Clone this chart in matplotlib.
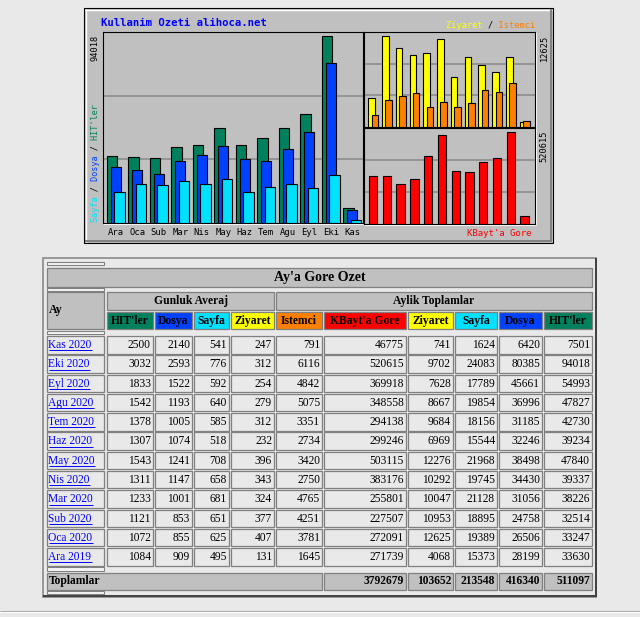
import matplotlib
matplotlib.use('Agg')
import matplotlib.pyplot as plt
from matplotlib.patches import Rectangle
import numpy as np

# ---------------- data (table order: newest first) ----------------
months = ["Kas 2020", "Eki 2020", "Eyl 2020", "Agu 2020", "Tem 2020", "Haz 2020",
          "May 2020", "Nis 2020", "Mar 2020", "Sub 2020", "Oca 2020", "Ara 2019"]
daily_hits = [2500, 3032, 1833, 1542, 1378, 1307, 1543, 1311, 1233, 1121, 1072, 1084]
daily_files = [2140, 2593, 1522, 1193, 1005, 1074, 1241, 1147, 1001, 853, 855, 909]
daily_pages = [541, 776, 592, 640, 585, 518, 708, 658, 681, 651, 625, 495]
daily_visits = [247, 312, 254, 279, 312, 232, 396, 343, 324, 377, 407, 131]
sites = [791, 6116, 4842, 5075, 3351, 2734, 3420, 2750, 4765, 4251, 3781, 1645]
kbytes = [46775, 520615, 369918, 348558, 294138, 299246, 503115, 383176, 255801,
          227507, 272091, 271739]
visits = [741, 9702, 7628, 8667, 9684, 6969, 12276, 10292, 10047, 10953, 12625, 4068]
pages = [1624, 24083, 17789, 19854, 18156, 15544, 21968, 19745, 21128, 18895, 19389, 15373]
files = [6420, 80385, 45661, 36996, 31185, 32246, 38498, 34430, 31056, 24758, 26506, 28199]
hits = [7501, 94018, 54993, 47827, 42730, 39234, 47840, 39337, 38226, 32514, 33247, 33630]

daily_headers = ["HIT'ler", "Dosya", "Sayfa", "Ziyaret"]
monthly_headers = ["Istemci", "KBayt'a Gore", "Ziyaret", "Sayfa", "Dosya", "HIT'ler"]

C_HIT, C_FILE, C_PAGE = '#00805c', '#0040ff', '#00e0ff'
C_VISIT, C_SITE, C_KB = '#ffff00', '#ff8000', '#ff0000'
GREY = '#c0c0c0'
PAGE_BG = '#e9e9e9'
MONO = 'DejaVu Sans Mono'
SERIF = 'Liberation Serif'

W, H = 640, 617
fig = plt.figure(figsize=(W / 100, H / 100), dpi=100)
fig.patch.set_facecolor(PAGE_BG)
bg = fig.add_axes([0, 0, 1, 1])
bg.set_xlim(0, W)
bg.set_ylim(H, 0)
bg.axis('off')
bg.set_zorder(0)


def rect(x0, y0, x1, y1, fc, ec='none', lw=0.0, z=1):
    bg.add_patch(Rectangle((x0, y0), x1 - x0, y1 - y0, facecolor=fc,
                           edgecolor=ec, linewidth=lw, zorder=z))


def line(xs, ys, c, lw, z=2):
    bg.plot(xs, ys, color=c, lw=lw, zorder=z, solid_capstyle='butt')


def px_axes(x0, y0, x1, y1, z=3):
    ax = fig.add_axes([x0 / W, 1 - y1 / H, (x1 - x0) / W, (y1 - y0) / H])
    ax.set_zorder(z)
    ax.set_facecolor(GREY)
    for s in ax.spines.values():
        s.set_color('black')
        s.set_linewidth(0.8)
    ax.set_yticks([])
    for fr in (1 / 3, 2 / 3):
        ax.plot([0, 1], [fr, fr], transform=ax.transAxes, color='#888888',
                lw=1.1, zorder=1)
    return ax


# ---------------- chart frame ----------------
rect(84, 8, 553, 243, GREY, 'black', 0.8)
line([85, 552], [9.6, 9.6], 'white', 1.0)
line([85.6, 85.6], [9, 242], 'white', 1.0)
line([85, 552], [241.3, 241.3], '#808080', 1.4)
line([551.3, 551.3], [9, 242], '#808080', 1.4)
# bevel around plot areas
line([103, 364], [224.2, 224.2], 'white', 0.8)
line([363.6, 363.6], [32, 224], 'white', 0.8)
line([364, 536], [225, 225], 'white', 0.8)
line([536.2, 536.2], [32, 225], 'white', 0.8)

x = np.arange(len(months))
short = [m.split(' ')[0] for m in months][::-1]

# left panel: hits / files / pages
axL = px_axes(103, 32, 363, 223)
axL.bar(x - 0.35, hits[::-1], width=0.49, align='edge', color=C_HIT,
        edgecolor='black', lw=0.8, zorder=3)
axL.bar(x - 0.165, files[::-1], width=0.47, align='edge', color=C_FILE,
        edgecolor='black', lw=0.8, zorder=4)
axL.bar(x - 0.01, pages[::-1], width=0.49, align='edge', color=C_PAGE,
        edgecolor='black', lw=0.8, zorder=5)
axL.set_xlim(-0.522, -0.522 + 260 / 21.5)
axL.set_ylim(0, max(hits) * 1.022)
axL.set_xticks(x + 0.07)
axL.set_xticklabels(short, fontfamily=MONO, fontsize=6.4, color='black')
axL.tick_params(axis='x', length=0, pad=3.3)

# right top: visits / sites
axV = px_axes(364, 32, 535, 127)
axV.bar(x - 0.36, visits[::-1], width=0.48, align='edge', color=C_VISIT,
        edgecolor='black', lw=0.8, zorder=3)
axV.bar(x - 0.12, sites[::-1], width=0.48, align='edge', color=C_SITE,
        edgecolor='black', lw=0.8, zorder=4)
axV.set_xlim(-0.67, -0.67 + 171 / 13.77)
axV.set_ylim(0, max(max(visits), max(sites)) * 1.045)
axV.set_xticks([])

# right bottom: kbytes
axK = px_axes(364, 128, 535, 224)
axK.bar(x - 0.31, kbytes[::-1], width=0.6, align='edge', color=C_KB,
        edgecolor='black', lw=0.8, zorder=3)
axK.set_xlim(-0.67, -0.67 + 171 / 13.77)
axK.set_ylim(0, max(kbytes) * 1.04)
axK.set_xticks([])

# chart texts
bg.text(101, 23.5, "Kullanim Ozeti alihoca.net", color='#0000ff', fontfamily=MONO,
        fontweight='bold', fontsize=7.7, ha='left', va='center', zorder=5)


def multicolor(xa, ya, parts, size, rot=0):
    full = ''.join(p for p, _ in parts)
    pos = 0
    for p, c in parts:
        s = ' ' * pos + p + ' ' * (len(full) - pos - len(p))
        bg.text(xa, ya, s, color=c, fontfamily=MONO, fontsize=size, ha='left',
                va='center', rotation=rot, rotation_mode='anchor', zorder=5)
        pos += len(p)


multicolor(446, 25, [("Ziyaret", C_VISIT), (" / ", 'black'), ("Istemci", C_SITE)], 6.2)
multicolor(95.5, 221.5, [("Sayfa", C_PAGE), (" / ", 'black'), ("Dosya", C_FILE),
                         (" / ", 'black'), ("HIT'ler", C_HIT)], 6.1, rot=90)
bg.text(467, 233, "KBayt'a Gore", color=C_KB, fontfamily=MONO, fontsize=6.5,
        ha='left', va='center', zorder=5)
for xa, ya, val in [(95.5, 34.5, max(hits)), (544, 34.5, max(visits)),
                    (544, 130.5, max(kbytes))]:
    bg.text(xa, ya, str(val), color='black', fontfamily=MONO, fontsize=6.2,
            ha='right', va='center', rotation=90, rotation_mode='anchor', zorder=5)

# ---------------- table ----------------
rect(43, 258, 596, 597, PAGE_BG, '#8a8a8a', 1.2)
line([43, 596.5], [596.3, 596.3], '#404040', 1.4)
line([595.6, 595.6], [258, 597], '#404040', 1.4)

ay = (47, 104)
dcols = [(107, 153), (155, 192), (194, 229), (231, 274)]
mcols = [(276, 322), (324, 406), (408, 453), (455, 497), (499, 542), (544, 592)]
CELL_EC = '#808080'


def cell(x0, y0, x1, y1, fc):
    rect(x0, y0, x1, y1, fc, CELL_EC, 0.9, z=2)


def spacer(y0, y1):
    rect(ay[0], y0, ay[1], y1, '#f6f6f6', CELL_EC, 0.8, z=2)


spacer(261.5, 265)
cell(47, 268, 592, 287, GREY)
bg.text(319.5, 277.8, "Ay'a Gore Ozet", fontfamily=SERIF, fontweight='bold',
        fontsize=10, ha='center', va='center', zorder=4)
spacer(288.3, 290.8)
cell(ay[0], 292, ay[1], 329, GREY)
bg.text(49, 310.5, "Ay", fontfamily=SERIF, fontweight='bold', fontsize=8.6,
        ha='left', va='center', zorder=4)
cell(dcols[0][0], 292, dcols[-1][1], 310, GREY)
bg.text((dcols[0][0] + dcols[-1][1]) / 2, 301.3, "Gunluk Averaj", fontfamily=SERIF,
        fontweight='bold', fontsize=8.4, ha='center', va='center', zorder=4)
cell(mcols[0][0], 292, mcols[-1][1], 310, GREY)
bg.text((mcols[0][0] + mcols[-1][1]) / 2, 301.3, "Aylik Toplamlar", fontfamily=SERIF,
        fontweight='bold', fontsize=8.4, ha='center', va='center', zorder=4)

for (x0, x1), lab, c in zip(dcols + mcols, daily_headers + monthly_headers,
                            [C_HIT, C_FILE, C_PAGE, C_VISIT,
                             C_SITE, C_KB, C_VISIT, C_PAGE, C_FILE, C_HIT]):
    cell(x0, 312, x1, 329, c)
    bg.text((x0 + x1) / 2, 321, lab, fontfamily=SERIF, fontweight='bold',
            fontsize=8.4, ha='center', va='center', color='black', zorder=4)

spacer(331.3, 334.3)

link_texts = []
for i, m in enumerate(months):
    y0 = 336 + i * 19.28
    y1 = y0 + 17.5
    yc = (y0 + y1) / 2 + 0.3
    cell(ay[0], y0, ay[1], y1, PAGE_BG)
    t = bg.text(48.5, yc, m, fontfamily=SERIF, fontsize=8.3, color='#0000ff',
                ha='left', va='center', zorder=4)
    link_texts.append((t, yc))
    vals = [daily_hits[i], daily_files[i], daily_pages[i], daily_visits[i],
            sites[i], kbytes[i], visits[i], pages[i], files[i], hits[i]]
    for (x0, x1), v in zip(dcols + mcols, vals):
        cell(x0, y0, x1, y1, PAGE_BG)
        bg.text(x1 - 2, yc, str(v), fontfamily=SERIF, fontsize=8.3, color='black',
                ha='right', va='center', zorder=4)

spacer(567.2, 570.7)
cell(ay[0], 573, mcols[0][1], 590, GREY)
bg.text(48.5, 581.3, "Toplamlar", fontfamily=SERIF, fontweight='bold', fontsize=8.3,
        ha='left', va='center', zorder=4)
tot_vals = [sum(kbytes), sum(visits), sum(pages), sum(files), sum(hits)]
for (x0, x1), v in zip(mcols[1:], tot_vals):
    cell(x0, 573, x1, 590, GREY)
    bg.text(x1 - 2, 581.3, str(v), fontfamily=SERIF, fontweight='bold', fontsize=8.3,
            ha='right', va='center', zorder=4)
spacer(591.3, 594.3)

# horizontal rule at page bottom
line([0, W], [611, 611], '#a8a8a8', 0.8)
line([0, W], [612.2, 612.2], 'white', 0.8)

# underline the month links
fig.canvas.draw()
renderer = fig.canvas.get_renderer()
inv = bg.transData.inverted()
for t, yc in link_texts:
    bb = t.get_window_extent(renderer)
    xa = inv.transform((bb.x0, bb.y0))[0]
    xb = inv.transform((bb.x1, bb.y0))[0]
    line([xa, xb], [yc + 5.3, yc + 5.3], '#0000ff', 0.7, z=4)

fig.savefig('out.png', dpi=100, facecolor=fig.get_facecolor())
